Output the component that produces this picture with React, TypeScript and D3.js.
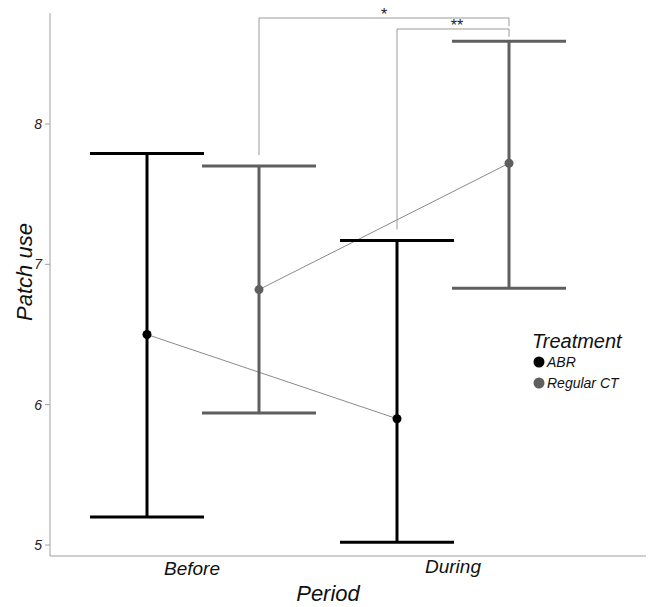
import React from 'react';
import * as d3 from 'd3';

// data
const periods = ['Before', 'During'];
const treatments = ['ABR', 'Regular CT'];
const meanABR = [6.5, 5.9];
const lowerABR = [5.2, 5.02];
const upperABR = [7.79, 7.17];
const meanCT = [6.82, 7.72];
const lowerCT = [5.94, 6.83];
const upperCT = [7.7, 8.59];
const yTicks = [5, 6, 7, 8];
const colors = ['#000000', '#5f5f5f'];

const W = 648;
const H = 607;
const FONT = '"Liberation Sans", Arial, sans-serif';

export default function App() {
  const y = d3.scaleLinear().domain([5, 8]).range([545, 124]);
  const x = d3.scalePoint().domain(periods).range([203, 453]);
  const dodge = d3.scalePoint().domain(treatments).range([-56, 56]);
  const capHalf = 57;

  const series = [
    { name: treatments[0], mean: meanABR, lo: lowerABR, hi: upperABR, color: colors[0] },
    { name: treatments[1], mean: meanCT, lo: lowerCT, hi: upperCT, color: colors[1] },
  ];

  const lineGen = d3.line<[number, number]>().x(d => d[0]).y(d => d[1]);

  const px = (p: string, t: string) => (x(p) as number) + (dodge(t) as number);

  // significance brackets
  const brackets = [
    { from: px('Before', treatments[1]), fromY: upperCT[0], to: px('During', treatments[1]), top: 18, label: '*', lx: 384 },
    { from: px('During', treatments[0]), fromY: upperABR[1], to: px('During', treatments[1]), top: 29, label: '**', lx: 457 },
  ];

  return (
    <svg width={W} height={H} style={{ position: 'absolute', left: 0, top: 0, background: '#fff' }}>
      {/* axes */}
      <line x1={50} x2={50} y1={13} y2={556} stroke="#a0a0a0" strokeWidth={1} />
      <line x1={50} x2={646} y1={556} y2={556} stroke="#a0a0a0" strokeWidth={1} />
      {yTicks.map(t => (
        <g key={t} transform={`translate(0,${y(t)})`}>
          <line x1={45} x2={50} stroke="#a0a0a0" />
          <text x={42} dy="0.35em" textAnchor="end" fontFamily={FONT} fontStyle="italic" fontSize={14} fill="#222">
            {t}
          </text>
        </g>
      ))}
      {periods.map((p, i) => (
        <text key={p} x={[192, 453][i]} y={[575, 573][i]} textAnchor="middle" fontFamily={FONT} fontStyle="italic" fontSize={19} fill="#111">
          {p}
        </text>
      ))}
      <text x={328} y={601} textAnchor="middle" fontFamily={FONT} fontStyle="italic" fontSize={22} fill="#111">Period</text>
      <text transform="translate(32,272) rotate(-90)" textAnchor="middle" fontFamily={FONT} fontStyle="italic" fontSize={22} fill="#111">Patch use</text>

      {/* connecting lines */}
      {series.map(s => (
        <path key={s.name + 'l'} d={lineGen(periods.map((p, i) => [px(p, s.name), y(s.mean[i])])) || ''} fill="none" stroke="#8a8a8a" strokeWidth={1} />
      ))}

      {/* error bars */}
      {series.map(s => periods.map((p, i) => {
        const cx = px(p, s.name);
        return (
          <g key={s.name + p} stroke={s.color} strokeWidth={3}>
            <line x1={cx} x2={cx} y1={y(s.hi[i])} y2={y(s.lo[i])} />
            <line x1={cx - capHalf} x2={cx + capHalf} y1={y(s.hi[i])} y2={y(s.hi[i])} />
            <line x1={cx - capHalf} x2={cx + capHalf} y1={y(s.lo[i])} y2={y(s.lo[i])} />
          </g>
        );
      }))}
      {series.map(s => periods.map((p, i) => (
        <circle key={s.name + p + 'c'} cx={px(p, s.name)} cy={y(s.mean[i])} r={4.5} fill={s.color} />
      )))}

      {/* significance brackets */}
      {brackets.map(b => (
        <g key={b.label}>
          <path d={`M${b.from},${y(b.fromY) - 11}V${b.top}H${b.to}V${b.top + 8}`} fill="none" stroke="#9a9a9a" strokeWidth={1} />
          <text x={b.lx} y={b.top + 2} textAnchor="middle" fontFamily={FONT} fontSize={16} fill="#222">
            {b.label}
          </text>
        </g>
      ))}

      {/* legend */}
      <text x={532} y={348} fontFamily={FONT} fontStyle="italic" fontSize={20} fill="#111">Treatment</text>
      {treatments.map((t, i) => (
        <g key={t} transform={`translate(539,${362 + i * 21})`}>
          <circle r={5.5} fill={colors[i]} />
          <text x={8} dy="0.35em" fontFamily={FONT} fontStyle="italic" fontSize={14} fill="#111">{t}</text>
        </g>
      ))}
    </svg>
  );
}
